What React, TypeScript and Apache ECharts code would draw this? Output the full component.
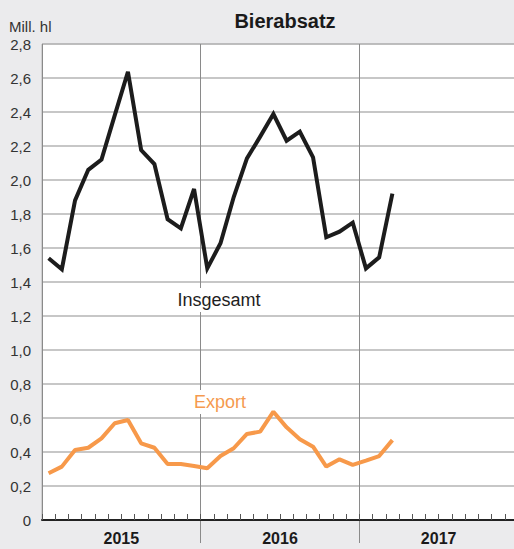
import React, { useEffect, useRef } from "react";
import * as echarts from "echarts";

const years = ["2015", "2016", "2017"];
const months: string[] = [];
for (let y = 0; y < years.length; y++) {
  for (let m = 1; m <= 12; m++) months.push(`${years[y]}-${m}`);
}

const insgesamt = [
  1.54, 1.475, 1.88, 2.06, 2.12, 2.38, 2.637, 2.176, 2.094, 1.769, 1.716, 1.947,
  1.48, 1.628, 1.9, 2.127, 2.255, 2.388, 2.231, 2.284, 2.133, 1.663, 1.696, 1.749,
  1.48, 1.545, 1.92, null, null, null, null, null, null, null, null, null,
];

const exportData = [
  0.275, 0.314, 0.412, 0.425, 0.48, 0.569, 0.588, 0.451, 0.425, 0.329, 0.329, 0.318,
  0.304, 0.376, 0.422, 0.506, 0.52, 0.637, 0.545, 0.475, 0.431, 0.314, 0.357, 0.324,
  0.349, 0.376, 0.47, null, null, null, null, null, null, null, null, null,
];

const FONT = "'Liberation Sans', Arial, Helvetica, sans-serif";
const GRID_COLOR = "#b5b5b5";

export default function App() {
  const ref = useRef<HTMLDivElement>(null);
  useEffect(() => {
    if (!ref.current) return;
    const chart = echarts.init(ref.current, undefined, { renderer: "svg" });
    chart.setOption({
      animation: false,
      backgroundColor: "#ebebed",
      textStyle: { fontFamily: FONT },
      title: {
        text: "Bierabsatz",
        left: 280,
        textAlign: "center",
        top: 6,
        textStyle: { fontSize: 20, fontWeight: "bold", color: "#1a1a1a", fontFamily: FONT },
      },
      grid: {
        left: 42,
        top: 44,
        width: 476,
        bottom: 29,
        outerBoundsMode: "none",
        containLabel: false,
        show: true,
        backgroundColor: "#ffffff",
        borderWidth: 1,
        borderColor: GRID_COLOR,
      },
      xAxis: [
        {
          type: "category",
          data: months,
          boundaryGap: true,
          position: "bottom",
          axisLine: { show: true, lineStyle: { color: "#222", width: 2 } },
          axisTick: { show: true, inside: true, length: 6, interval: 0, lineStyle: { color: "#555", width: 1 } },
          axisLabel: { show: false },
          splitLine: { show: false },
          z: 5,
        },
        {
          type: "category",
          data: years,
          boundaryGap: true,
          position: "bottom",
          axisLine: { show: false },
          axisTick: {
            show: true,
            inside: false,
            length: 23,
            interval: (i: number) => i > 0,
            lineStyle: { color: "#8a8a8a", width: 1 },
          },
          axisLabel: {
            show: true,
            margin: 10,
            fontSize: 16,
            fontWeight: "bold",
            color: "#1a1a1a",
            fontFamily: FONT,
          },
          splitLine: { show: true, lineStyle: { color: "#8a8a8a", width: 1 } },
        },
      ],
      yAxis: {
        type: "value",
        min: 0,
        max: 2.8,
        interval: 0.2,
        axisLine: { show: false },
        axisTick: { show: false },
        axisLabel: {
          margin: 11,
          fontSize: 15,
          color: "#333",
          fontFamily: FONT,
          formatter: (v: number) => (v === 0 ? "0" : v.toFixed(1).replace(".", ",")),
        },
        splitLine: { show: true, lineStyle: { color: GRID_COLOR, width: 1.5 } },
      },
      graphic: [
        {
          type: "text",
          left: 9,
          top: 19,
          style: { text: "Mill. hl", fontSize: 15, fill: "#333", fontFamily: FONT },
        },
        {
          type: "text",
          x: 219,
          y: 300,
          z: 10,
          style: {
            text: "Insgesamt",
            fontSize: 18,
            fill: "#1e1e1e",
            fontFamily: FONT,
            align: "center",
            verticalAlign: "middle",
            backgroundColor: "#ffffff",
            padding: [3, 2],
          },
        },
        {
          type: "text",
          x: 220,
          y: 402,
          z: 10,
          style: {
            text: "Export",
            fontSize: 18,
            fill: "#f59a4f",
            fontFamily: FONT,
            align: "center",
            verticalAlign: "middle",
            backgroundColor: "#ffffff",
            padding: [3, 2],
          },
        },
      ],
      series: [
        {
          name: "Insgesamt",
          type: "line",
          xAxisIndex: 0,
          data: insgesamt,
          showSymbol: false,
          symbol: "none",
          lineStyle: { color: "#1c1c1c", width: 4, join: "miter" },
          z: 3,
        },
        {
          name: "Export",
          type: "line",
          xAxisIndex: 0,
          data: exportData,
          showSymbol: false,
          symbol: "none",
          lineStyle: { color: "#f7994a", width: 4 },
          z: 3,
        },
      ],
    });
    return () => chart.dispose();
  }, []);
  return (
    <div
      ref={ref}
      style={{ position: "absolute", left: 0, top: 0, width: 514, height: 549 }}
    />
  );
}
